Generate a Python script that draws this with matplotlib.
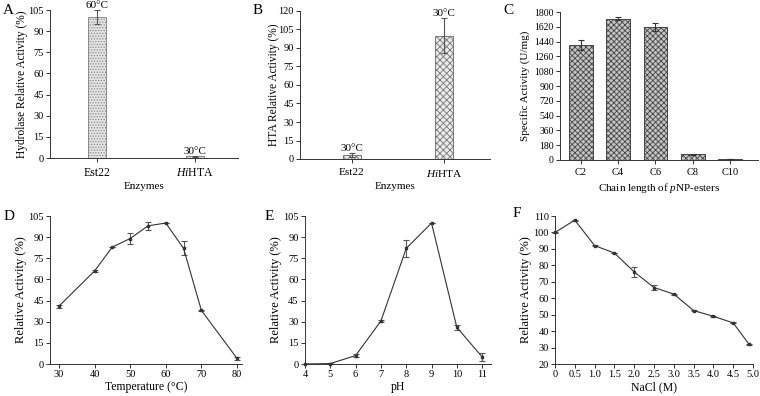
import matplotlib
matplotlib.use("Agg")
import matplotlib.pyplot as plt
import numpy as np

plt.rcParams['font.family'] = ['Liberation Serif', 'DejaVu Serif']
plt.rcParams['font.size'] = 8
plt.rcParams['hatch.linewidth'] = 0.6
plt.rcParams['mathtext.fontset'] = 'custom'
plt.rcParams['mathtext.rm'] = 'Liberation Serif'
plt.rcParams['mathtext.it'] = 'Liberation Serif:italic'

# Panel A
enz = ["Est22", "$\\it{Hi}$HTA"]
a_vals = [100, 1.2]
a_err = [5, 0.3]
a_temps = ["60°C", "30°C"]
# Panel B
b_vals = [3, 100]
b_err = [1.5, 14]
b_temps = ["30°C", "30°C"]
# Panel C
chains = ["C2", "C4", "C6", "C8", "C10"]
c_vals = [1400, 1720, 1620, 70, 10]
c_err = [60, 15, 45, 5, 3]
# Panel D
temp_x = [30, 40, 45, 50, 55, 60, 65, 70, 80]
temp_y = [41, 66, 83, 89, 98, 100, 82, 38, 4]
temp_e = [1, 0.8, 0.3, 4, 3, 0.3, 5, 0.3, 1]
# Panel E
ph_x = [4, 5, 6, 7, 8, 9, 10, 11]
ph_y = [0, 0.3, 6, 30.5, 82, 100, 26, 5]
ph_e = [0, 0.3, 1, 1, 6, 0.3, 2, 3]
# Panel F
nacl_x = [0, 0.5, 1.0, 1.5, 2.0, 2.5, 3.0, 3.5, 4.0, 4.5, 4.9]
nacl_y = [100, 107.5, 92, 87.5, 76, 66.5, 62.5, 52.5, 49, 45, 32]
nacl_e = [0.2, 0.3, 0.3, 0.3, 3, 1.5, 0.3, 0.3, 0.3, 0.3, 0.3]

W, H = 760, 396
fig = plt.figure(figsize=(W / 100, H / 100), dpi=100)

def ax_px(l, t, r, b):
    return fig.add_axes([l / W, 1 - b / H, (r - l) / W, (b - t) / H])

def style(ax, xsize, ysize, xpad, ypad=1.5):
    for s in ("top", "right"):
        ax.spines[s].set_visible(False)
    for s in ("left", "bottom"):
        ax.spines[s].set_linewidth(0.7)
        ax.spines[s].set_color("#333333")
    ax.tick_params(direction="out", length=3, width=0.7, color="#333333")
    ax.tick_params(axis="x", labelsize=xsize, pad=xpad)
    ax.tick_params(axis="y", labelsize=ysize, pad=ypad)

ecol = "#555555"

# A
axA = ax_px(50, 10, 238, 158)
style(axA, 8.5, 7.5, 3.5)
xa = np.arange(len(enz))
axA.bar(xa, a_vals, width=0.18, color="#e4e4e4", edgecolor="#888888", hatch="......", linewidth=0.7)
axA.errorbar(xa, a_vals, yerr=a_err, fmt="none", ecolor=ecol, elinewidth=0.8, capsize=2.5, capthick=0.8)
for x, v, e, t in zip(xa, a_vals, a_err, a_temps):
    axA.text(x, v + e, t, ha="center", va="bottom", fontsize=8, clip_on=False)
axA.set_xlim(-0.48, 1.44)
axA.set_ylim(0, 105)
axA.set_yticks(np.arange(0, 106, 15))
axA.set_xticks(xa)
axA.set_xticklabels(enz)
axA.set_xlabel("Enzymes", labelpad=2, fontsize=8)
axA.set_ylabel("Hydrolase Relative Activity (%)", labelpad=0, fontsize=8.3)

# B
axB = ax_px(300, 11, 490, 159)
style(axB, 8.2, 7.5, 3.5)
axB.bar(xa, b_vals, width=0.2, color="#eaeaea", edgecolor="#777777", hatch="xxxxx", linewidth=0.7)
axB.errorbar(xa, b_vals, yerr=b_err, fmt="none", ecolor=ecol, elinewidth=0.8, capsize=2.5, capthick=0.8)
for x, v, e, t in zip(xa, b_vals, b_err, b_temps):
    axB.text(x, v + e, t, ha="center", va="bottom", fontsize=8)
axB.set_xlim(-0.565, 1.5)
axB.set_ylim(0, 120)
axB.set_yticks(np.arange(0, 121, 15))
axB.set_xticks(xa)
axB.set_xticklabels(enz)
axB.set_xlabel("Enzymes", labelpad=2, fontsize=8)
axB.set_ylabel("HTA Relative Activity (%)", labelpad=-1, fontsize=8.3)

# C
axC = ax_px(560, 12, 758, 160)
style(axC, 7.5, 7, 3)
xc = np.arange(len(chains))
axC.bar(xc, c_vals, width=0.64, color="#c4c4c4", edgecolor="#444444", hatch="xxxxxx", linewidth=0.7)
axC.errorbar(xc, c_vals, yerr=c_err, fmt="none", ecolor="#333333", elinewidth=0.8, capsize=2.5, capthick=0.8)
axC.set_xlim(-0.56, 4.75)
axC.set_ylim(0, 1800)
axC.set_yticks(np.arange(0, 1801, 180))
axC.set_xticks(xc)
axC.set_xticklabels(chains)
axC.set_xlabel("Chain length of $\\it{p}$NP-esters", labelpad=3, fontsize=8)
axC.set_ylabel("Specific Activity (U/mg)", labelpad=3, fontsize=8)

lc = "#333333"
def line_panel(ax, xs, ys, es):
    ax.errorbar(xs, ys, yerr=es, color=lc, lw=0.8, marker="s", ms=2,
                ecolor=ecol, elinewidth=0.8, capsize=2, capthick=0.8, clip_on=False)

# D
axD = ax_px(50, 216, 242, 364)
style(axD, 7.5, 7.5, 1)
line_panel(axD, temp_x, temp_y, temp_e)
axD.set_xlim(27.5, 81.4)
axD.set_ylim(0, 105)
axD.set_yticks(np.arange(0, 106, 15))
axD.set_xticks(np.arange(30, 81, 10))
axD.set_xlabel("Temperature (°C)", labelpad=2, fontsize=8.5)
axD.set_ylabel("Relative Activity (%)", labelpad=1, fontsize=9)

# E
axE = ax_px(305, 216, 491, 364)
style(axE, 7.5, 7.5, 1)
line_panel(axE, ph_x, ph_y, ph_e)
axE.set_xlim(4, 11.35)
axE.set_ylim(0, 105)
axE.set_yticks(np.arange(0, 106, 15))
axE.set_xticks(np.arange(4, 12, 1))
axE.set_xlabel("pH", labelpad=2, fontsize=8.5)
axE.set_ylabel("Relative Activity (%)", labelpad=1, fontsize=9)

# F
axF = ax_px(555, 216, 753, 364)
style(axF, 7.5, 7.5, 1)
line_panel(axF, nacl_x, nacl_y, nacl_e)
axF.set_xlim(0, 5.0)
axF.set_ylim(20, 110)
axF.set_yticks(np.arange(20, 111, 10))
xt = np.arange(0, 5.01, 0.5)
axF.set_xticks(xt)
axF.set_xticklabels(["0"] + [f"{v:.1f}" for v in xt[1:]])
axF.set_xlabel("NaCl (M)", labelpad=2, fontsize=8.5)
axF.set_ylabel("Relative Activity (%)", labelpad=1, fontsize=9)

for lab, x, y in [("A", 3, 4), ("B", 253, 4), ("C", 503, 4), ("D", 4, 210), ("E", 265, 210), ("F", 513, 207)]:
    fig.text(x / W, 1 - y / H, lab, fontsize=11, ha="left", va="top")

fig.savefig("out.png", dpi=100)
